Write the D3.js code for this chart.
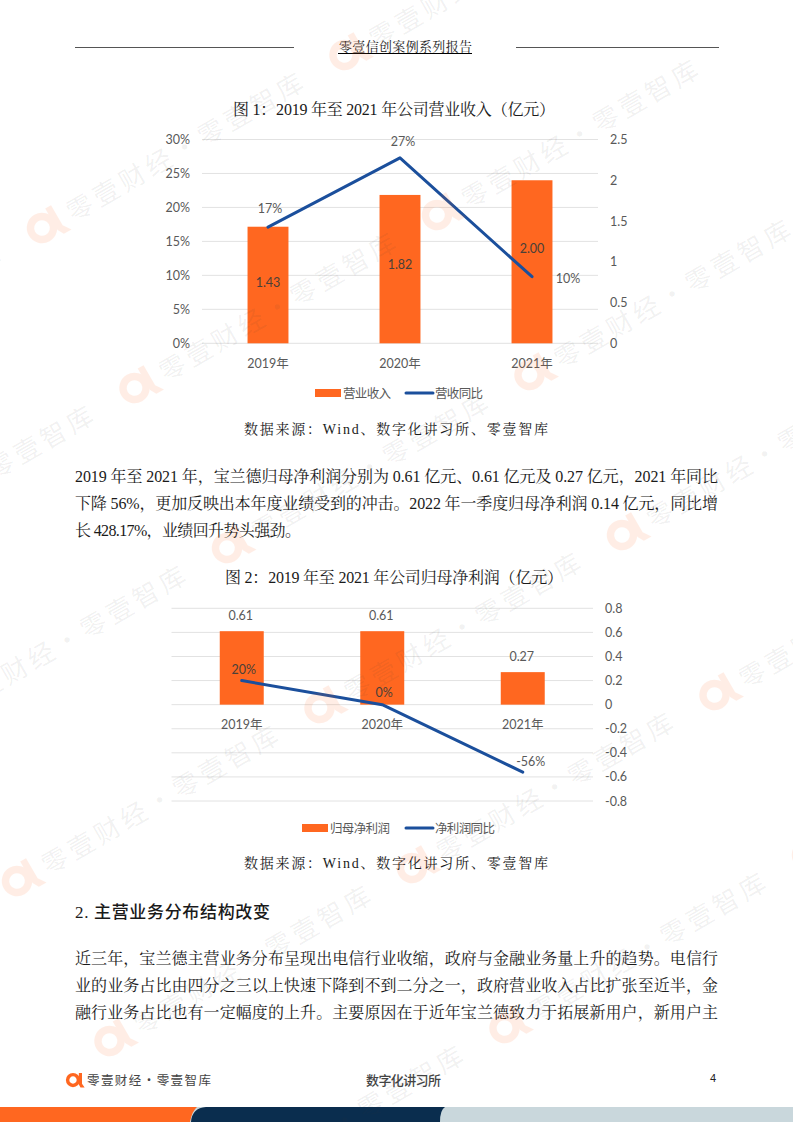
<!DOCTYPE html>
<html>
<head>
<meta charset="utf-8">
<script src="https://cdn.jsdelivr.net/npm/d3@7"></script>
<style>
html, body { margin: 0; padding: 0; background: #fff; }
svg { display: block; }
.serif { font-family: "Liberation Serif", "Noto Serif CJK SC", "Noto Sans CJK SC", serif; fill: #1a1a1a; }
.lab { font-family: Lato, "Noto Sans CJK SC", sans-serif; font-size: 12.5px; fill: #595959; }
</style>
</head>
<body>
<svg id="page" width="793" height="1122"></svg>
<script>
// chart 1
var years = ["2019年", "2020年", "2021年"]
var revenue = [1.43, 1.82, 2.00]
var revenueLabels = ["1.43", "1.82", "2.00"]
var revenueYoy = [0.171, 0.273, 0.098]
var revenueYoyLabels = ["17%", "27%", "10%"]
var pctTicks = [0, 0.05, 0.10, 0.15, 0.20, 0.25, 0.30]
var revTicks = [0, 0.5, 1, 1.5, 2, 2.5]

// chart 2
var profit = [0.61, 0.61, 0.27]
var profitLabels = ["0.61", "0.61", "0.27"]
var profitYoy = [0.20, 0, -0.56]
var profitYoyLabels = ["20%", "0%", "-56%"]
var profitTicks = [-0.8, -0.6, -0.4, -0.2, 0, 0.2, 0.4, 0.6, 0.8]

var orange = "#ff6720", blue = "#1b4f9c", grid = "#e2e2e2"
var svg = d3.select("#page")

function serifText(str, x, y, size, width, anchor) {
    var t = svg.append("text").attr("class", "serif")
        .attr("x", x).attr("y", y)
        .style("font-size", size + "px")
        .attr("text-anchor", anchor || "start")
        .text(str)
    if (width) t.attr("textLength", width).attr("lengthAdjust", "spacing")
    return t
}

// header
svg.append("line").attr("x1", 75).attr("x2", 294).attr("y1", 47.5).attr("y2", 47.5).attr("stroke", "#555").attr("stroke-width", 1)
svg.append("line").attr("x1", 516).attr("x2", 719).attr("y1", 47.5).attr("y2", 47.5).attr("stroke", "#555").attr("stroke-width", 1)
serifText("零壹信创案例系列报告", 339, 51, 13, 133)
svg.append("line").attr("x1", 338).attr("x2", 472).attr("y1", 53.5).attr("y2", 53.5).attr("stroke", "#000").attr("stroke-width", 1)

// chart titles and sources
serifText("图 1：2019 年至 2021 年公司营业收入（亿元）", 233, 115, 16, 322)
serifText("数据来源：Wind、数字化讲习所、零壹智库", 244, 434, 14, 304)
serifText("图 2：2019 年至 2021 年公司归母净利润（亿元）", 225, 583, 16, 338)
serifText("数据来源：Wind、数字化讲习所、零壹智库", 244, 868, 14, 304)

// body
serifText("2019 年至 2021 年，宝兰德归母净利润分别为 0.61 亿元、0.61 亿元及 0.27 亿元，2021 年同比", 75, 482, 16, 643)
serifText("下降 56%，更加反映出本年度业绩受到的冲击。2022 年一季度归母净利润 0.14 亿元，同比增", 75, 509, 16, 643)
serifText("长 428.17%，业绩回升势头强劲。", 75, 536, 16, 226)
serifText("2. 主营业务分布结构改变", 75, 918, 17, 195).style("font-weight", "500").style("font-family", '"Liberation Serif", "Noto Sans CJK SC"')
serifText("近三年，宝兰德主营业务分布呈现出电信行业收缩，政府与金融业务量上升的趋势。电信行", 75, 964, 16, 643)
serifText("业的业务占比由四分之三以上快速下降到不到二分之一，政府营业收入占比扩张至近半，金", 75, 991, 16, 643)
serifText("融行业务占比也有一定幅度的上升。主要原因在于近年宝兰德致力于拓展新用户，新用户主", 75, 1018, 16, 643)

function legend(x0, y0, barName, lineName, nameW1, lineX, nameW2) {
    svg.append("rect").attr("x", x0).attr("y", y0 - 4).attr("width", 26).attr("height", 8).attr("fill", orange)
    svg.append("text").attr("class", "lab").attr("x", x0 + 28).attr("y", y0 + 4.5).attr("textLength", nameW1).text(barName)
    svg.append("line").attr("x1", lineX).attr("x2", lineX + 27).attr("y1", y0).attr("y2", y0).attr("stroke", blue).attr("stroke-width", 3).attr("stroke-linecap", "round")
    svg.append("text").attr("class", "lab").attr("x", lineX + 29).attr("y", y0 + 4.5).attr("textLength", nameW2).text(lineName)
}

// figure 1
var x1 = d3.scaleBand().domain(years).range([202, 598]).paddingInner(0.69).paddingOuter(0.345)
var yPct = d3.scaleLinear().domain([0, 0.30]).range([343.3, 139.5])
var yRev = d3.scaleLinear().domain([0, 2.5]).range([343.3, 139.5])

svg.append("g").selectAll("line").data(pctTicks).enter().append("line")
    .attr("x1", 202).attr("x2", 598)
    .attr("y1", d => yPct(d)).attr("y2", d => yPct(d))
    .attr("stroke", grid).attr("stroke-width", 1)

svg.append("g").selectAll("text").data(pctTicks).enter().append("text")
    .attr("class", "lab").attr("x", 190).attr("text-anchor", "end")
    .attr("y", d => yPct(d) + 4.5).text(d3.format(".0%"))
svg.append("g").selectAll("text").data(revTicks).enter().append("text")
    .attr("class", "lab").attr("x", 610)
    .attr("y", d => yRev(d) + 4.5).text(d => d)

svg.append("g").selectAll("rect").data(revenue).enter().append("rect")
    .attr("x", (d, i) => x1(years[i])).attr("width", x1.bandwidth())
    .attr("y", d => yRev(d)).attr("height", d => yRev(0) - yRev(d))
    .attr("fill", orange)

var line1 = d3.line().x((d, i) => x1(years[i]) + x1.bandwidth() / 2).y(d => yPct(d))
svg.append("path").attr("d", line1(revenueYoy)).attr("fill", "none").attr("stroke", blue).attr("stroke-width", 3).attr("stroke-linecap", "round").attr("stroke-linejoin", "round")

// the bar labels were hand placed in the original, not centred
var barOff1 = [2, 0, -8.5]
svg.append("g").selectAll("text").data(revenueLabels).enter().append("text")
    .attr("class", "lab").attr("text-anchor", "middle")
    .attr("x", (d, i) => x1(years[i]) + x1.bandwidth() / 2)
    .attr("y", (d, i) => yRev(revenue[i] / 2) + barOff1[i]).style("fill", "#4a4038").text(d => d)

// line labels sit beside their points, offsets follow the original
var yoyOff1 = [[2, -14], [3, -12], [36, 6]]
svg.append("g").selectAll("text").data(revenueYoyLabels).enter().append("text")
    .attr("class", "lab").attr("text-anchor", "middle")
    .attr("x", (d, i) => x1(years[i]) + x1.bandwidth() / 2 + yoyOff1[i][0])
    .attr("y", (d, i) => yPct(revenueYoy[i]) + yoyOff1[i][1]).text(d => d)

svg.append("g").selectAll("text").data(years).enter().append("text")
    .attr("class", "lab").attr("text-anchor", "middle")
    .attr("x", d => x1(d) + x1.bandwidth() / 2).attr("y", 367.5).text(d => d)

legend(315, 393, "营业收入", "营收同比", 48, 406, 48)

// figure 2
var x2 = d3.scaleBand().domain(years).range([171.5, 593]).paddingInner(0.687).paddingOuter(0.3435)
var y2 = d3.scaleLinear().domain([-0.8, 0.8]).range([801, 608.3])

svg.append("g").selectAll("line").data(profitTicks).enter().append("line")
    .attr("x1", 171.5).attr("x2", 593)
    .attr("y1", d => y2(d)).attr("y2", d => y2(d))
    .attr("stroke", grid).attr("stroke-width", 1)

svg.append("g").selectAll("text").data(profitTicks).enter().append("text")
    .attr("class", "lab").attr("x", 605)
    .attr("y", d => y2(d) + 4.5).text(d => d)

svg.append("g").selectAll("rect").data(profit).enter().append("rect")
    .attr("x", (d, i) => x2(years[i])).attr("width", x2.bandwidth())
    .attr("y", d => y2(d)).attr("height", d => y2(0) - y2(d))
    .attr("fill", orange)

var line2 = d3.line().x((d, i) => x2(years[i]) + x2.bandwidth() / 2).y(d => y2(d))
svg.append("path").attr("d", line2(profitYoy)).attr("fill", "none").attr("stroke", blue).attr("stroke-width", 3).attr("stroke-linecap", "round").attr("stroke-linejoin", "round")

svg.append("g").selectAll("text").data(profitLabels).enter().append("text")
    .attr("class", "lab").attr("text-anchor", "middle")
    .attr("x", (d, i) => x2(years[i]) + x2.bandwidth() / 2 - 1)
    .attr("y", (d, i) => y2(profit[i]) - 11.5).text(d => d)

var yoyOff2 = [[2, -7], [2, -8], [8, -6]]
svg.append("g").selectAll("text").data(profitYoyLabels).enter().append("text")
    .attr("class", "lab").attr("text-anchor", "middle")
    .attr("x", (d, i) => x2(years[i]) + x2.bandwidth() / 2 + yoyOff2[i][0])
    .attr("y", (d, i) => y2(profitYoy[i]) + yoyOff2[i][1]).style("fill", (d, i) => i < 2 ? "#4a4038" : "#595959").text(d => d)

svg.append("g").selectAll("text").data(years).enter().append("text")
    .attr("class", "lab").attr("text-anchor", "middle")
    .attr("x", d => x2(d) + x2.bandwidth() / 2).attr("y", 728.5).text(d => d)

legend(302, 828, "归母净利润", "净利润同比", 60, 406, 60)

// logo mark: ring plus a small tail
function logo(g, size, colour) {
    g.append("circle").attr("r", size * 0.72).attr("fill", "none").attr("stroke", colour).attr("stroke-width", size * 0.46)
    g.append("path").attr("fill", colour)
        .attr("d", "M" + size * 0.78 + "," + (-size * 0.95) + "h" + size * 0.42 + "v" + size * 1.45 + "l" + size * 0.35 + "," + size * 0.5 + "h" + (-size * 0.55) + "l" + (-size * 0.22) + "," + (-size * 0.4) + "z")
}

// footer
var foot = svg.append("g").attr("transform", "translate(73,1080)")
logo(foot, 7.5, orange)
svg.append("text").attr("x", 87).attr("y", 1085).attr("textLength", 124)
    .style("font-family", '"Noto Sans CJK SC"').style("font-size", "12.5px").style("fill", "#444").text("零壹财经·零壹智库")
svg.append("text").attr("x", 366).attr("y", 1085).attr("textLength", 75)
    .style("font-family", '"Noto Sans CJK SC"').style("font-size", "13px").style("font-weight", "500").style("fill", "#444").text("数字化讲习所")
svg.append("text").attr("x", 713).attr("y", 1082).attr("text-anchor", "middle")
    .style("font-family", '"Liberation Sans"').style("font-size", "11px").style("fill", "#222").text("4")

svg.append("rect").attr("x", 0).attr("y", 1107).attr("width", 793).attr("height", 15).attr("fill", "#c9d7dc")
svg.append("path").attr("d", "M191,1122 Q192,1108 206,1107 H445 Q440,1110 440,1122 Z").attr("fill", "#0a2d4e")
svg.append("path").attr("d", "M0,1107 H197 Q192,1111 190,1122 H0 Z").attr("fill", orange)

// watermark lattice, drawn over everything at low opacity
var wm = svg.append("g").style("pointer-events", "none")
for (var i = -2; i < 8; i++) {
    for (var j = -4; j < 6; j++) {
        var px = 42 + i * 92.5 + j * 302.5
        var py = 228 + i * 160 - j * 173
        if (px < -320 || px > 830 || py < -40 || py > 1300) continue
        // the original has no marks in the page corners
        if ((py < 100 || py > 1180) && (px < 0 || px > 500)) continue
        var g = wm.append("g").attr("transform", "translate(" + px + "," + py + ") rotate(-30)")
        logo(g.append("g").attr("opacity", 0.11), 16, orange)
        g.append("text").attr("x", 30).attr("y", 11)
            .attr("textLength", 268)
            .style("font-family", '"Noto Sans CJK SC"').style("font-size", "26px")
            .style("fill", "rgba(60,60,60,0.07)").text("零壹财经·零壹智库")
    }
}
</script>
</body>
</html>
